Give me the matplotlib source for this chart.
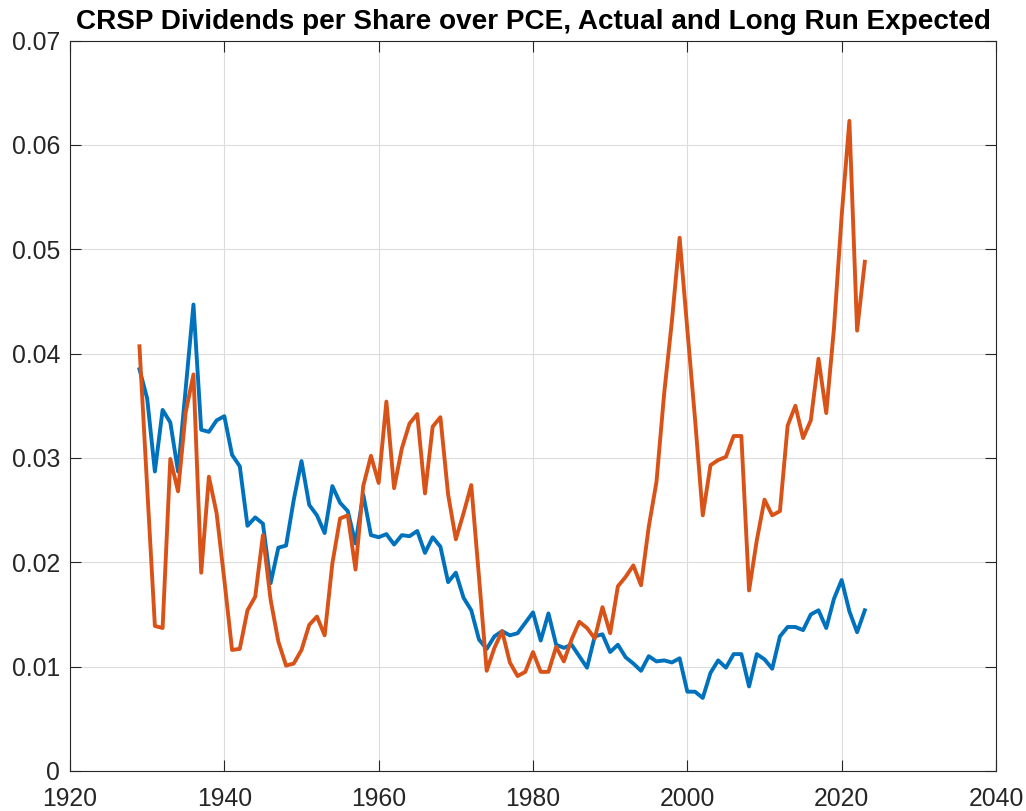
import numpy as np
import matplotlib
matplotlib.use('Agg')
import matplotlib.pyplot as plt

plt.rcParams['font.family'] = ['Liberation Sans', 'DejaVu Sans']

years = np.arange(1929, 2024)

# actual dividends per share / PCE
actual = [0.0385, 0.0357, 0.0287, 0.0346, 0.0334, 0.0287, 0.0367, 0.0447, 0.0327, 0.0325,
          0.0336, 0.0340, 0.0303, 0.0292, 0.0235, 0.0243, 0.0237, 0.0180, 0.0214, 0.0216,
          0.0260, 0.0297, 0.0255, 0.0245, 0.0228, 0.0273, 0.0257, 0.0249, 0.0218, 0.0265,
          0.0226, 0.0224, 0.0227, 0.0217, 0.0226, 0.0225, 0.0230, 0.0209, 0.0224, 0.0215,
          0.0181, 0.0190, 0.0166, 0.0154, 0.0126, 0.0117, 0.0129, 0.0134, 0.0130, 0.0132,
          0.0142, 0.0152, 0.0125, 0.0151, 0.0121, 0.0118, 0.0121, 0.0110, 0.0099, 0.0129,
          0.0131, 0.0114, 0.0121, 0.0109, 0.0103, 0.0096, 0.0110, 0.0105, 0.0106, 0.0104,
          0.0108, 0.0076, 0.0076, 0.0070, 0.0094, 0.0106, 0.0099, 0.0112, 0.0112, 0.0081,
          0.0112, 0.0107, 0.0098, 0.0129, 0.0138, 0.0138, 0.0135, 0.0150, 0.0154, 0.0137,
          0.0165, 0.0183, 0.0153, 0.0133, 0.0154]

# long run expected
expected = [0.0407, 0.0272, 0.0139, 0.0137, 0.0299, 0.0268, 0.0344, 0.0380, 0.0190, 0.0282,
            0.0247, 0.0183, 0.0116, 0.0117, 0.0154, 0.0167, 0.0226, 0.0164, 0.0124, 0.0101,
            0.0103, 0.0116, 0.0140, 0.0148, 0.0130, 0.0199, 0.0242, 0.0245, 0.0193, 0.0273,
            0.0302, 0.0276, 0.0354, 0.0271, 0.0309, 0.0333, 0.0342, 0.0266, 0.0330, 0.0339,
            0.0265, 0.0222, 0.0247, 0.0274, 0.0186, 0.0096, 0.0118, 0.0134, 0.0104, 0.0091,
            0.0095, 0.0114, 0.0095, 0.0095, 0.0119, 0.0105, 0.0126, 0.0143, 0.0137, 0.0127,
            0.0157, 0.0132, 0.0177, 0.0186, 0.0197, 0.0178, 0.0234, 0.0277, 0.0362, 0.0431,
            0.0511, 0.0423, 0.0337, 0.0245, 0.0293, 0.0298, 0.0301, 0.0321, 0.0321, 0.0173,
            0.0221, 0.0260, 0.0245, 0.0249, 0.0331, 0.0350, 0.0319, 0.0336, 0.0395, 0.0343,
            0.0424, 0.0532, 0.0623, 0.0422, 0.0488]

fig = plt.figure(figsize=(10.26, 8.11), dpi=100)
ax = fig.add_axes([70/1026, 40/811, 926/1026, 730.5/811])

ax.plot(years, actual, color='#0072BD', lw=2.8)
ax.plot(years, expected, color='#D95319', lw=2.8)

ax.set_xlim(1920, 2040)
ax.set_ylim(0, 0.07)
ax.set_xticks(np.arange(1920, 2041, 20))
ax.set_yticks(np.arange(0, 0.0701, 0.01))
ax.set_yticklabels(['0', '0.01', '0.02', '0.03', '0.04', '0.05', '0.06', '0.07'])

ax.grid(True, color='#dcdcdc', lw=0.8)
ax.set_axisbelow(True)
for s in ax.spines.values():
    s.set_color('#262626')
    s.set_linewidth(0.8)
ax.tick_params(direction='in', length=8, width=0.8, colors='#262626',
               labelsize=17.8, top=True, right=True, pad=7)
ax.tick_params(axis='x', pad=11.5)

ax.set_title('CRSP Dividends per Share over PCE, Actual and Long Run Expected',
             fontsize=20.1, fontweight='bold', pad=8)

fig.savefig('out.png', dpi=100)
